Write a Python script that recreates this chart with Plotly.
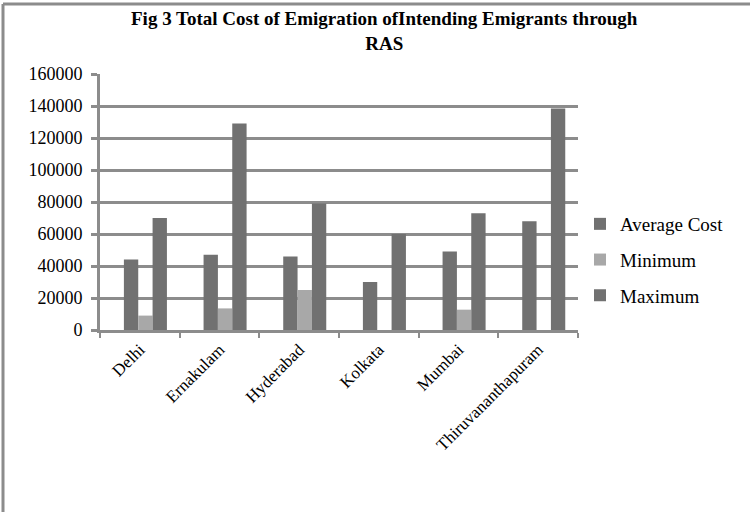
import plotly.graph_objects as go

categories = ["Delhi", "Ernakulam", "Hyderabad", "Kolkata", "Mumbai", "Thiruvananthapuram"]
average_cost = [44000, 47000, 46000, 30000, 49000, 68000]
minimum = [9000, 13500, 25000, None, 12700, None]
maximum = [70000, 129000, 79000, 60000, 73000, 138500]
y_ticks = [0, 20000, 40000, 60000, 80000, 100000, 120000, 140000, 160000]

DARK = "#717171"
LIGHT = "#a8a8a8"
GRID = "#8c8c8c"
SERIF = "Liberation Serif"

BW = 0.18
SHIFT = 0.07
fig = go.Figure()
for name, vals, col, grp, k in [("Average Cost", average_cost, DARK, "a", 0),
                                ("Minimum", minimum, LIGHT, "b", 1),
                                ("Maximum", maximum, DARK, "c", 2)]:
    fig.add_trace(go.Bar(x=categories, y=vals, name=name, width=BW,
                         offset=-1.5 * BW + k * BW + SHIFT,
                         marker=dict(color=col, line=dict(width=0)), legendgroup=grp))

L, T = 100, 74
R, B = 750 - 578, 512 - 330
pw, ph = 750 - L - R, 512 - T - B

def px_x(p):
    return (p - L) / pw

def px_y(p):
    return (512 - B - p) / ph

fig.update_layout(
    width=750, height=512,
    margin=dict(l=L, r=R, t=T, b=B),
    paper_bgcolor="white", plot_bgcolor="white",
    barmode="overlay",
    font=dict(family=SERIF, color="black", size=16),
    legend=dict(
        x=px_x(580), xanchor="left", y=px_y(260), yanchor="middle",
        font=dict(family=SERIF, size=19, color="black"),
        itemwidth=30, tracegroupgap=8, bgcolor="rgba(0,0,0,0)",
    ),
    xaxis=dict(
        showgrid=False, showline=True, linecolor=GRID, linewidth=3,
        ticks="outside", ticklen=5, tickwidth=2, tickcolor=GRID,
        tickson="boundaries", tickangle=-45,
        tickfont=dict(family=SERIF, size=17, color="black"),
    ),
    yaxis=dict(
        range=[0, 160000], tickvals=y_ticks, ticktext=[str(v) for v in y_ticks],
        showgrid=True, gridcolor=GRID, gridwidth=2.5,
        showline=True, linecolor=GRID, linewidth=3,
        ticks="outside", ticklen=6, tickwidth=2.5, tickcolor=GRID,
        zeroline=False, ticklabelstandoff=5,
        tickfont=dict(family=SERIF, size=18, color="black"),
    ),
    annotations=[
        dict(text="<b>Fig 3 Total Cost of Emigration ofIntending Emigrants through</b><br><b>RAS</b>",
             xref="paper", yref="paper", x=px_x(384), y=px_y(31),
             xanchor="center", yanchor="middle", showarrow=False,
             font=dict(family=SERIF, size=19, color="black")),
    ],
    shapes=[
        dict(type="line", xref="paper", yref="paper",
             x0=px_x(3), x1=px_x(3), y0=px_y(4), y1=px_y(530),
             line=dict(color=GRID, width=3)),
        dict(type="line", xref="paper", yref="paper",
             x0=px_x(3), x1=px_x(760), y0=px_y(4), y1=px_y(4),
             line=dict(color=GRID, width=3)),
    ],
)

fig.write_html("out.html")
